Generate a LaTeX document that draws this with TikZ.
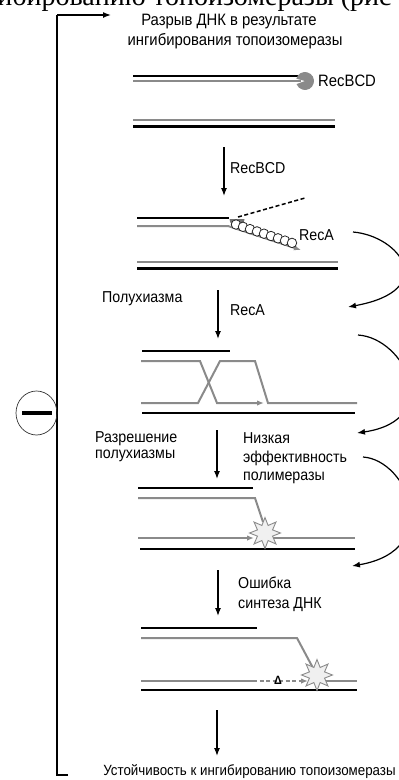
\documentclass[tikz,border=0pt]{standalone}
\usepackage{fontspec}
\setmainfont{Liberation Sans}[FakeStretch=0.9]
\newfontfamily\headserif{Liberation Serif}
\usetikzlibrary{arrows.meta,shapes.geometric}
\definecolor{strandgray}{HTML}{8A8A8A}
\definecolor{enzgray}{HTML}{727272}
\definecolor{starfill}{HTML}{F0F0F0}
\begin{document}
\begin{tikzpicture}[x=1pt,y=-1pt,
  lbl/.style={inner sep=0pt, font=\fontsize{15.8}{18}\selectfont},
  blk/.style={line width=2.2pt, black},
  gry/.style={line width=2pt, strandgray},
  steparrow/.style={line width=1.3pt, -{Latex[length=8pt,width=6pt]}},
  sidearrow/.style={line width=1.2pt, -{Latex[length=8pt,width=6pt]}},
  gtip/.style={-{Latex[length=7pt,width=5.5pt]}},
  lesion/.style={star, star points=8, star point ratio=1.9, minimum size=31pt,
    inner sep=0pt, draw=strandgray, fill=starfill, line width=0.9pt},
  bead/.style={circle, draw=black!85, fill=white, line width=0.8pt,
    minimum size=9.5pt, inner sep=0pt},
  pageline/.style={inner sep=0pt, font=\headserif\fontsize{28}{30}\selectfont},
]
\useasboundingbox (0,0) rectangle (399,780);
\clip (0,0) rectangle (399,780);

% running text of the page, cut at the top edge
\node[pageline, anchor=base east] (pagetexta) at (146,5) {ингибированию};
\node[pageline, anchor=base west] (pagetextb) at (153,5) {топоизомеразы (рис};

% feedback bracket with the inhibition sign
\coordinate (brtop) at (111,15);
\coordinate (brtl) at (57,15);
\coordinate (brbl) at (57,775);
\coordinate (brbot) at (68,775);
\draw[line width=1.4pt] (brbot) -- (brbl) -- (brtl);
\draw[line width=1.4pt, -{Latex[length=8pt,width=6pt]}] (brtl) -- (brtop);
\node[ellipse, draw=black!80, line width=0.7pt, minimum width=41pt, minimum height=44pt,
  inner sep=0pt] (minus) at (36.5,413) {};
\draw[line width=4pt] (22,413) -- (52,413);

% title
\node[lbl, anchor=base, font=\fontsize{16.5}{18}\selectfont] (t1) at (229,25) {Разрыв ДНК в результате};
\node[lbl, anchor=base, font=\fontsize{16.5}{18}\selectfont] (t2) at (235,45) {ингибирования топоизомеразы};

% panel 1: broken duplex with RecBCD at the end
\draw[blk] (133,76) -- (301,76);
\draw[gry] (133,80.5) -- (301,80.5);
\fill[strandgray] (305,81) -- ++(195:9) arc[start angle=195, end angle=520, radius=9] -- cycle;
\node[lbl, anchor=base west, font=\fontsize{16.5}{18}\selectfont] (recbcd1) at (318,86) {RecBCD};
\draw[gry] (133,120) -- (335,120);
\draw[blk] (133,126.5) -- (335,126.5);

% step 1
\coordinate (s1a) at (224,147);
\coordinate (s1b) at (224,196);
\draw[steparrow] (s1a) -- (s1b);
\node[lbl, anchor=base west] (recbcd2) at (230,173) {RecBCD};

% panel 2: end resection and RecA loading
\draw[blk] (137,218) -- (229,218);
\draw[gry, gtip] (137,226) -- (228,226) -- (301,250);
\draw[line width=1.5pt, dash pattern=on 4pt off 2.5pt] (238,217) -- (305,198);
\fill[enzgray] (229.5,219) arc[start angle=180, end angle=0, radius=7.5] -- cycle;
\foreach \i in {0,...,8} {
  \node[bead] (bead\i) at ({236+\i*7},{224.5+\i*2.3}) {};
}
\node[lbl, anchor=base west] (reca1) at (299,240) {RecA};
\draw[gry] (137,262) -- (338,262);
\draw[blk] (137,268.5) -- (338,268.5);

% step 2
\node[lbl, anchor=base west] (semichi) at (102,302) {Полухиазма};
\coordinate (s2a) at (218,290);
\coordinate (s2b) at (218,339);
\draw[steparrow] (s2a) -- (s2b);
\node[lbl, anchor=base west] (reca2) at (230,315) {RecA};

% panel 3: strand invasion
\draw[blk] (142,351) -- (230,351);
\draw[gry, gtip] (141,361) -- (200,361) -- (217,403) -- (264,403);
\draw[gry] (141,403) -- (198,403) -- (220,361) -- (255,361) -- (268,403) -- (357,403);
\draw[blk] (142,413) -- (355,413);

% step 3
\node[lbl, anchor=base west] (res1) at (95,442) {Разрешение};
\node[lbl, anchor=base west] (res2) at (95,458) {полухиазмы};
\coordinate (s3a) at (217,430);
\coordinate (s3b) at (217,479);
\draw[steparrow] (s3a) -- (s3b);
\node[lbl, anchor=base west] (low1) at (243,443) {Низкая};
\node[lbl, anchor=base west] (low2) at (243,462) {эффективность};
\node[lbl, anchor=base west] (low3) at (243,480) {полимеразы};

% panel 4: stalled synthesis
\draw[blk] (138,488) -- (253,488);
\draw[gry] (138,498) -- (255,498) -- (263,522);
\draw[gry, gtip] (138,538) -- (254,538);
\draw[gry] (270,538) -- (355,538);
\draw[blk] (140,549) -- (355,549);
\node[lesion] (star1) at (265,533) {};

% step 4
\coordinate (s4a) at (218,570);
\coordinate (s4b) at (218,616);
\draw[steparrow] (s4a) -- (s4b);
\node[lbl, anchor=base west] (err1) at (238,588) {Ошибка};
\node[lbl, anchor=base west] (err2) at (238,608) {синтеза ДНК};

% panel 5: error-prone synthesis with deletion
\draw[blk] (141,628) -- (257,628);
\draw[gry] (141,638) -- (297,638) -- (313,668);
\draw[gry] (141,681) -- (253,681);
\draw[strandgray, line width=1.8pt, dash pattern=on 4pt off 2.5pt, gtip] (253,681) -- (308,681);
\draw[gry] (325,681) -- (357,681);
\draw[blk] (141,690) -- (357,690);
\node[lesion] (star2) at (317,675) {};
\node[inner sep=0pt, font=\bfseries\fontsize{12}{12}\selectfont] (delta) at (278,680) {Δ};

% final step
\coordinate (s5a) at (217,710);
\coordinate (s5b) at (217,756);
\draw[steparrow] (s5a) -- (s5b);
\node[lbl, anchor=base, font=\fontsize{14.8}{18}\selectfont] (result) at (249.5,775) {Устойчивость к ингибированию топоизомеразы};

% curved arrows on the right
\coordinate (c1a) at (353,232);
\coordinate (c1b) at (348,307);
\coordinate (c2a) at (358,335);
\coordinate (c2b) at (357,433);
\coordinate (c3a) at (363,457);
\coordinate (c3b) at (352,566);
\draw[sidearrow] (c1a) .. controls (400,236) and (440,290) .. (c1b);
\draw[sidearrow] (c2a) .. controls (405,338) and (445,420) .. (c2b);
\draw[sidearrow] (c3a) .. controls (408,460) and (445,550) .. (c3b);
\end{tikzpicture}
\end{document}
